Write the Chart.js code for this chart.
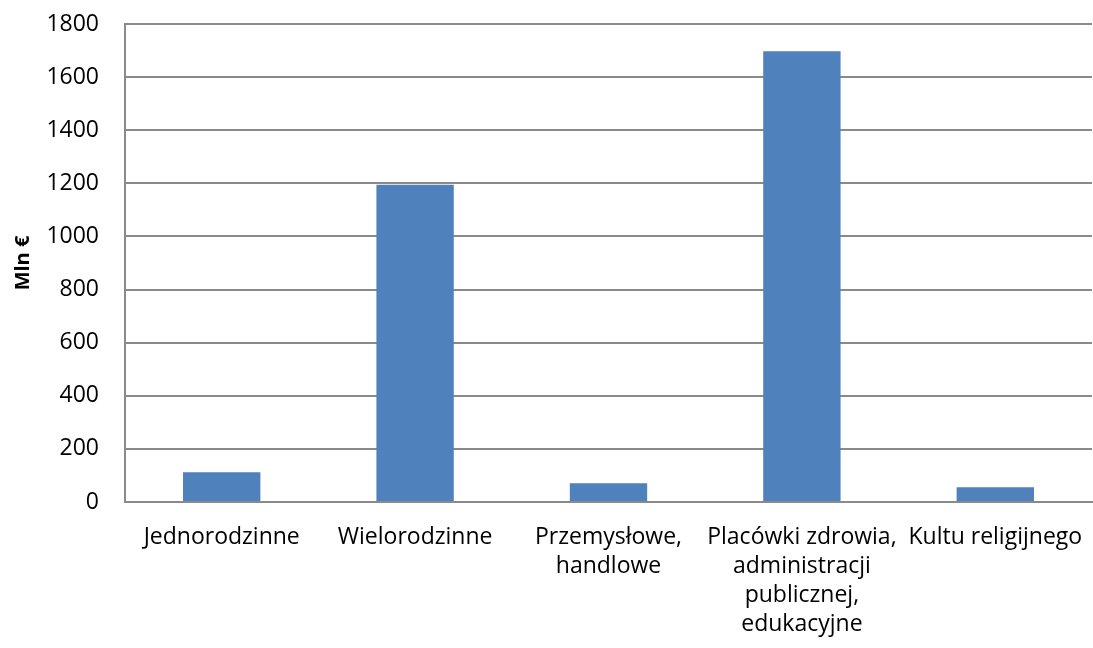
<!DOCTYPE html>
<html>
<head>
<meta charset="utf-8">
<script src="https://cdn.jsdelivr.net/npm/chart.js@4/dist/chart.umd.min.js"></script>
<style>
  html, body { margin: 0; padding: 0; background: #fff; }
  #wrap { width: 1093px; height: 648px; position: relative; }
</style>
</head>
<body>
<div id="wrap"><canvas id="c"></canvas></div>
<script>
// Building categories (multi-line labels) and investment values in million euro
const categories = [
  ['Jednorodzinne'],
  ['Wielorodzinne'],
  ['Przemysłowe,', 'handlowe'],
  ['Placówki zdrowia,', 'administracji', 'publicznej,', 'edukacyjne'],
  ['Kultu religijnego']
];
const values = [112, 1195, 71, 1697, 56];
const yTicks = [0, 200, 400, 600, 800, 1000, 1200, 1400, 1600, 1800];
const yTitle = 'Mln €';

const FONT = '"Open Sans", Lato, sans-serif';
const GRID = '#8a8a8a';

new Chart(document.getElementById('c'), {
  type: 'bar',
  data: {
    labels: categories,
    datasets: [{
      data: values,
      backgroundColor: '#4f81bd',
      borderWidth: 0,
      barPercentage: 0.4,
      categoryPercentage: 1.0
    }]
  },
  options: {
    responsive: true,
    maintainAspectRatio: false,
    animation: false,
    layout: { padding: { top: 24, right: 1, left: 4, bottom: 0 } },
    plugins: { legend: { display: false }, tooltip: { enabled: false } },
    scales: {
      x: {
        afterFit: (axis) => {
          axis.height = 146;
          axis.paddingLeft = 0;
          axis.paddingRight = 0;
        },
        grid: { display: false, drawTicks: false },
        border: { display: true, color: GRID, width: 2 },
        ticks: {
          color: '#000',
          font: { family: FONT, size: 23, lineHeight: 1.26 },
          padding: 21,
          maxRotation: 0,
          autoSkip: false
        }
      },
      y: {
        min: 0,
        max: 1800,
        afterBuildTicks: (axis) => { axis.ticks = yTicks.map(v => ({ value: v })); },
        afterFit: (axis) => {
          axis.width = 121;
          axis.paddingTop = 0;
          axis.paddingBottom = 0;
        },
        grid: { color: GRID, lineWidth: 2, drawTicks: false },
        border: { display: true, color: GRID, width: 2 },
        ticks: {
          color: '#000',
          font: { family: FONT, size: 23 },
          padding: 26,
          callback: (v) => String(v)
        },
        title: {
          display: true,
          text: yTitle,
          color: '#000',
          font: { family: FONT, size: 20, weight: 'bold' },
          padding: { top: 7, bottom: 0 }
        }
      }
    }
  }
});
</script>
</body>
</html>
